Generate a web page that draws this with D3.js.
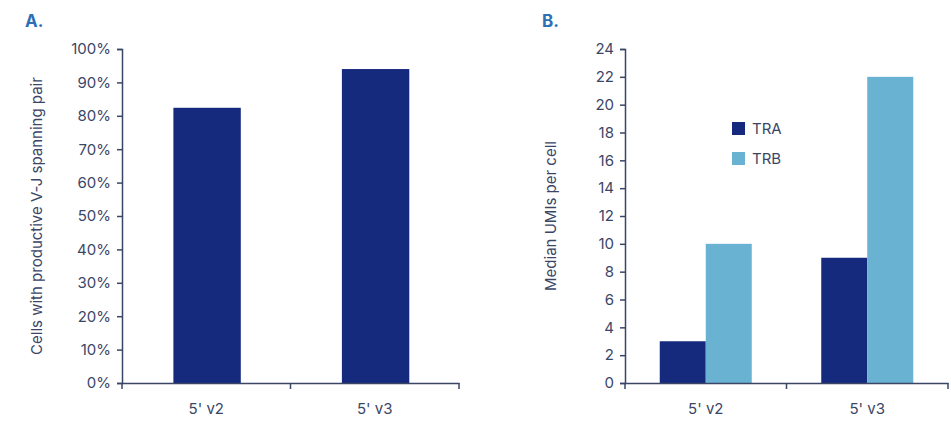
<!DOCTYPE html>
<html><head><meta charset="utf-8">
<script src="https://cdn.jsdelivr.net/npm/d3@7"></script>
<style>body{margin:0;background:#fff}text{font-family:Inter,"Noto Sans",sans-serif}</style>
</head><body><svg id="c" width="951" height="438"></svg>
<script>
const categories = ["5' v2", "5' v3"];
const spanningPair = [0.824, 0.94];
const seriesNames = ["TRA", "TRB"];
const traValues = [3, 9];
const trbValues = [10, 22];
const pctTicks = [0,0.1,0.2,0.3,0.4,0.5,0.6,0.7,0.8,0.9,1.0];
const umiTicks = [0,2,4,6,8,10,12,14,16,18,20,22,24];

const svg = d3.select("#c");
const axisColor = "#3b4667", textColor = "#3b4667";
const dark = "#162a7d", light = "#6ab2d1", labelBlue = "#2f6fb6";
const yTop = 49, yBottom = 383;

function styleAxis(g){
  g.selectAll("path,line").attr("stroke", axisColor).attr("stroke-width",1.5);
  g.selectAll("text").attr("fill", textColor).attr("font-size", 15);
}

// Panel A
const xA = d3.scaleBand().domain(categories).range([122, 459]).paddingInner(0).paddingOuter(0);
const yA = d3.scaleLinear().domain([0,1]).range([yBottom, yTop]);
svg.selectAll(".barA").data(categories).join("rect")
  .attr("x", d => xA(d) + xA.bandwidth()*0.305)
  .attr("width", xA.bandwidth()*0.4)
  .attr("y", (d,i) => yA(spanningPair[i]))
  .attr("height", (d,i) => yBottom - yA(spanningPair[i]))
  .attr("fill", dark);
const gyA = svg.append("g").attr("transform","translate(122,0)")
  .call(d3.axisLeft(yA).tickValues(pctTicks).tickFormat(d3.format(".0%")).tickSize(5).tickPadding(6));
styleAxis(gyA);
const gxA = svg.append("g").attr("transform",`translate(0,${yBottom})`)
  .call(d3.axisBottom(xA).tickSize(0).tickPadding(20));
styleAxis(gxA);
[122, 290.5, 459].forEach(x => svg.append("line").attr("x1",x).attr("x2",x).attr("y1",yBottom).attr("y2",yBottom+6).attr("stroke",axisColor).attr("stroke-width",1.5));
svg.append("text").attr("transform","translate(42,216) rotate(-90)").attr("text-anchor","middle")
  .attr("fill",textColor).attr("font-size",15).text("Cells with productive V-J spanning pair");
svg.append("text").attr("x",25).attr("y",27).attr("fill",labelBlue).attr("font-size",17).attr("font-weight","bold").text("A.");

// Panel B
const xB = d3.scaleBand().domain(categories).range([625, 948]);
const inner = d3.scaleBand().domain(seriesNames).range([0, 92]);
const yB = d3.scaleLinear().domain([0,24]).range([yBottom, yTop]);
const seriesVals = [traValues, trbValues], colors = [dark, light];
seriesNames.forEach((s, si) => {
  svg.selectAll(".bar"+s).data(categories).join("rect")
    .attr("x", d => xB(d) + (xB.bandwidth()-92)/2 + inner(s))
    .attr("width", inner.bandwidth())
    .attr("y", (d,i) => yB(seriesVals[si][i]))
    .attr("height", (d,i) => yBottom - yB(seriesVals[si][i]))
    .attr("fill", colors[si]);
});
const gyB = svg.append("g").attr("transform","translate(625,0)")
  .call(d3.axisLeft(yB).tickValues(umiTicks).tickSize(5).tickPadding(6));
styleAxis(gyB);
const gxB = svg.append("g").attr("transform",`translate(0,${yBottom})`)
  .call(d3.axisBottom(xB).tickSize(0).tickPadding(20));
styleAxis(gxB);
[625, 786.5, 948].forEach(x => svg.append("line").attr("x1",x).attr("x2",x).attr("y1",yBottom).attr("y2",yBottom+6).attr("stroke",axisColor).attr("stroke-width",1.5));
svg.append("text").attr("transform","translate(556,216) rotate(-90)").attr("text-anchor","middle")
  .attr("fill",textColor).attr("font-size",15).text("Median UMIs per cell");
svg.append("text").attr("x",542).attr("y",27).attr("fill",labelBlue).attr("font-size",17).attr("font-weight","bold").text("B.");

// legend
seriesNames.forEach((s,i) => {
  svg.append("rect").attr("x",732).attr("y",122+i*30).attr("width",13).attr("height",13).attr("fill",colors[i]);
  svg.append("text").attr("x",752).attr("y",134+i*30).attr("fill",textColor).attr("font-size",15).text(s);
});
</script></body></html>
